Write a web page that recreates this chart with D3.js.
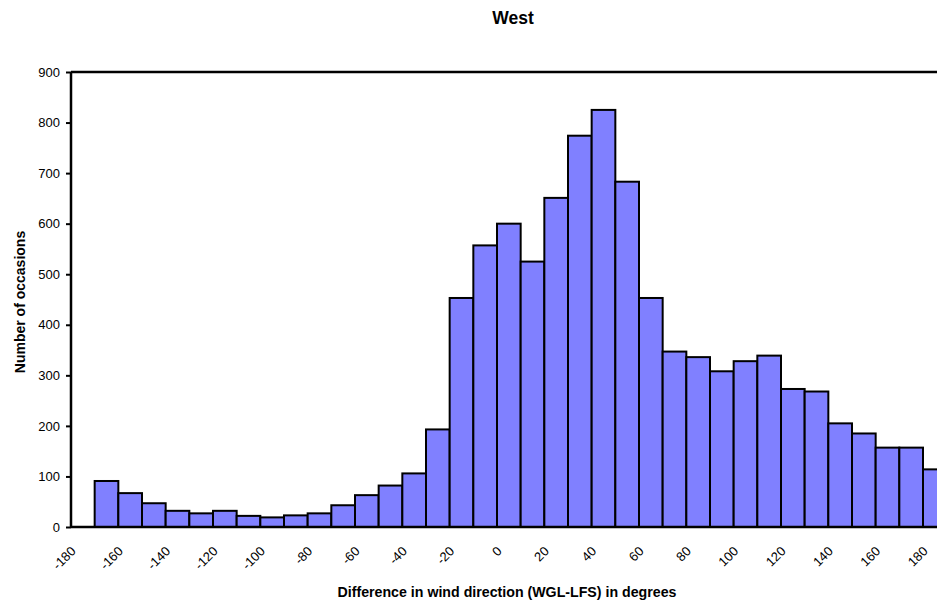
<!DOCTYPE html>
<html><head><meta charset="utf-8">
<script src="https://cdn.jsdelivr.net/npm/d3@7"></script>
<style>
html,body{margin:0;padding:0;background:#fff;overflow:hidden;}
text{font-family:Arial,"Liberation Sans",sans-serif;}
</style></head>
<body>
<script>
const binStarts = [-180,-170,-160,-150,-140,-130,-120,-110,-100,-90,-80,-70,-60,-50,-40,-30,-20,-10,0,10,20,30,40,50,60,70,80,90,100,110,120,130,140,150,160,170,180];
const counts = [0,91,67,47,32,27,32,22,19,23,27,43,63,82,106,193,453,557,600,525,651,774,825,683,453,347,336,308,328,339,273,268,205,185,157,157,114];
const xTicks = [-180,-160,-140,-120,-100,-80,-60,-40,-20,0,20,40,60,80,100,120,140,160,180];
const yTicks = [0,100,200,300,400,500,600,700,800,900];
const binWidth = 10;

(function(){
const W = 937, H = 603;
const mLeft = 71, mTop = 72, mBottom = 527;
const slotPx = (923 - 71) / 36;
const mRight = mLeft + slotPx * 37;

const svg = d3.select("body").append("svg").attr("width", W).attr("height", H);

const x = d3.scaleLinear().domain([-180, 190]).range([mLeft, mRight]);
const y = d3.scaleLinear().domain([0, 900]).range([mBottom, mTop]);

// bars
svg.append("g").selectAll("rect").data(binStarts.map((b,i)=>({b, v:counts[i]})))
  .join("rect")
  .attr("x", d => x(d.b))
  .attr("y", d => y(d.v))
  .attr("width", d => x(d.b + binWidth) - x(d.b))
  .attr("height", d => y(0) - y(d.v))
  .attr("fill", "#8080FF")
  .attr("stroke", "#000")
  .attr("stroke-width", 2);

// top border
svg.append("line").attr("x1", mLeft).attr("x2", W).attr("y1", mTop).attr("y2", mTop)
  .attr("stroke", "#000").attr("stroke-width", 2.5);

// y axis
const yAxis = d3.axisLeft(y).tickValues(yTicks).tickSize(5).tickPadding(6).tickFormat(d => String(d));
const gy = svg.append("g").attr("transform", `translate(${mLeft},0)`).call(yAxis);
gy.select(".domain").attr("stroke-width", 2.5).attr("d", `M0,${mTop}V${mBottom}`);
gy.selectAll(".tick line").attr("stroke-width", 2);
gy.selectAll(".tick text").attr("font-size", 13).attr("fill", "#000").attr("font-family", "Arial, 'Liberation Sans', sans-serif");

// x axis
const xAxis = d3.axisBottom(x).tickValues(xTicks).tickSize(0).tickPadding(0).tickFormat(d => String(d));
const gx = svg.append("g").attr("transform", `translate(0,${mBottom})`).call(xAxis);
gx.select(".domain").attr("stroke-width", 2.5).attr("d", `M${mLeft},0H${W}`);
gx.selectAll(".tick text")
  .attr("font-size", 13).attr("fill", "#000").attr("font-family", "Arial, 'Liberation Sans', sans-serif")
  .attr("text-anchor", "end").attr("dy", null).attr("y", null)
  .attr("transform", "translate(5,25) rotate(-45)");

// titles
svg.append("text").attr("x", 513).attr("y", 24).attr("text-anchor", "middle")
  .attr("font-size", 17.5).attr("font-weight", "bold").text("West");
svg.append("text").attr("x", 507).attr("y", 597).attr("text-anchor", "middle")
  .attr("font-size", 14.2).attr("font-weight", "bold").text("Difference in wind direction (WGL-LFS) in degrees");
svg.append("text").attr("transform", "translate(25,302) rotate(-90)").attr("text-anchor", "middle")
  .attr("font-size", 14).attr("font-weight", "bold").text("Number of occasions");
})();
</script>
</body></html>
